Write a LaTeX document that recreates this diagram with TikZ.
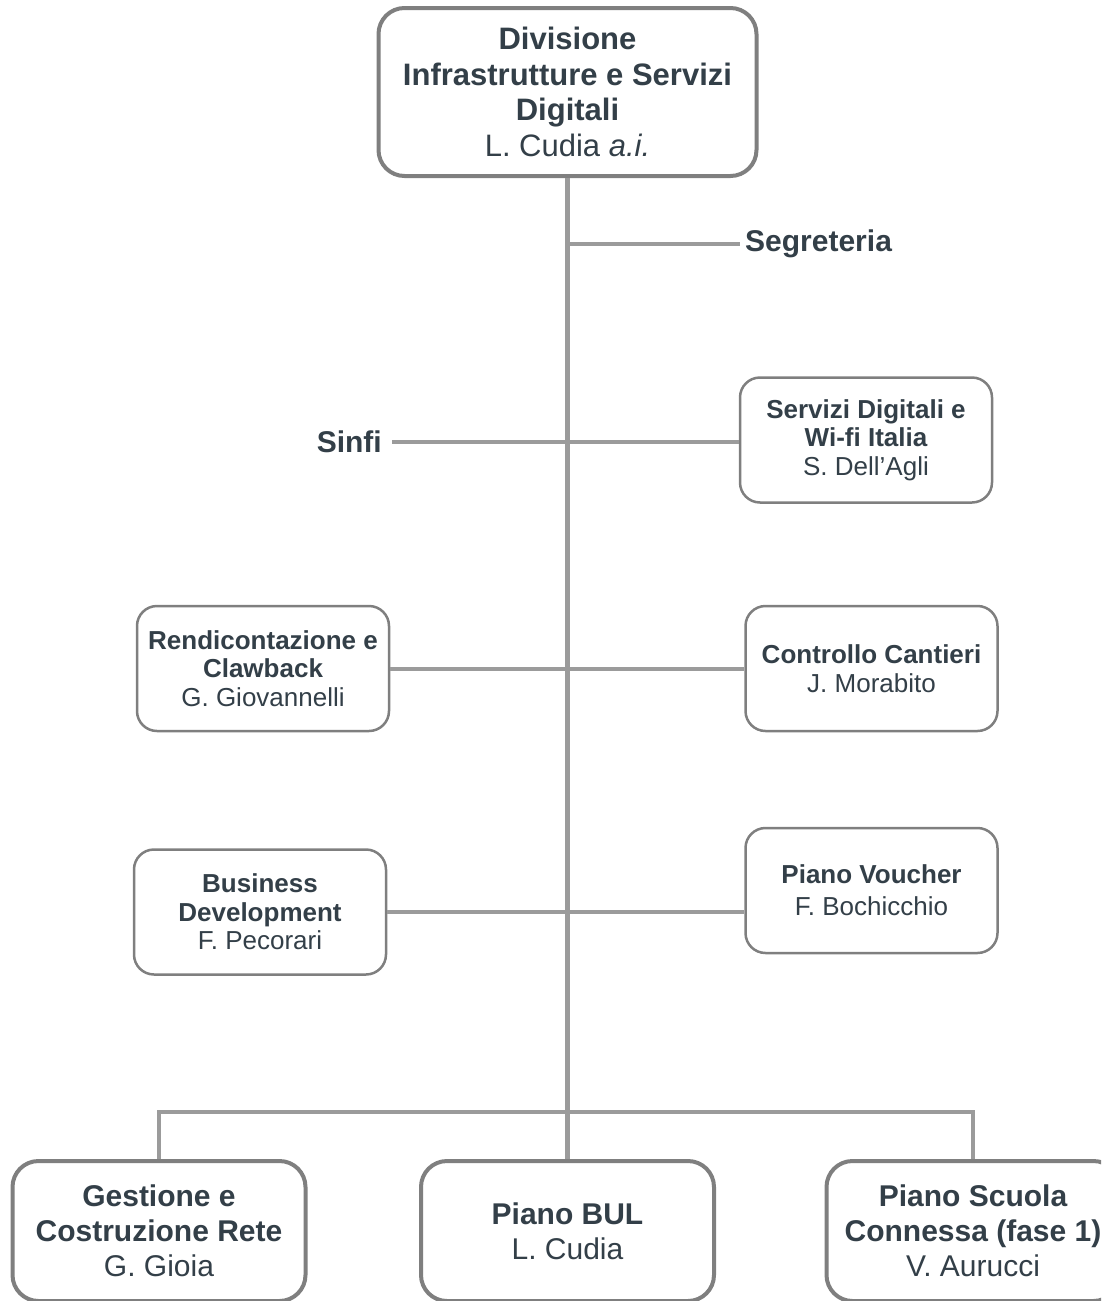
\documentclass[tikz,border=0pt]{standalone}
\usepackage{fontspec}
\setmainfont{Liberation Sans}
\usepackage{tikz}
\definecolor{ink}{HTML}{333F48}
\definecolor{linegray}{HTML}{9B9B9B}
\definecolor{boxgray}{HTML}{7F7F7F}
\tikzstyle{headbox} = [draw=boxgray, fill=white, line width=4pt, rectangle, rounded corners=26pt, minimum width=378pt, minimum height=168pt, align=center, text=ink, font=\fontsize{31}{35.5}\selectfont\bfseries]
\tikzstyle{unitbox} = [draw=boxgray, fill=white, line width=2.5pt, rectangle, rounded corners=20pt, minimum width=252pt, minimum height=125pt, inner sep=0pt, align=center, text=ink, font=\fontsize{26}{28.5}\selectfont\bfseries]
\tikzstyle{planbox} = [draw=boxgray, fill=white, line width=4pt, rectangle, rounded corners=26pt, minimum width=293pt, minimum height=140pt, align=center, text=ink, font=\fontsize{30}{35}\selectfont\bfseries]
\tikzstyle{staff} = [text=ink, font=\fontsize{30}{35}\selectfont\bfseries, inner sep=5pt]
\tikzstyle{trunk} = [draw=linegray, line width=5pt]
\tikzstyle{branch} = [draw=linegray, line width=4pt]
\newcommand{\who}[1]{{\mdseries #1}}

\begin{document}
\begin{tikzpicture}[x=1pt,y=-1pt]
\useasboundingbox (0,0) rectangle (1101,1301);
\clip (0,0) rectangle (1101,1301);
% direzione
\node [headbox] (div) at (567.5,92) {Divisione\\Infrastrutture e Servizi\\Digitali\\\who{L. Cudia \textit{a.i.}}};
% staff
\node [staff, anchor=west] (segr) at (740,244) {Segreteria};
\node [staff, anchor=east, inner xsep=10pt] (sinfi) at (392,442) {Sinfi};
% uffici
\node [unitbox] (serv) at (866,440) {Servizi Digitali e\\Wi-fi Italia\\\who{S. Dell’Agli}};
\node [unitbox] (rend) at (263,668.5) {Rendicontazione e\\Clawback\\\who{G. Giovannelli}};
\node [unitbox] (ctrl) at (871.5,668.5) {Controllo Cantieri\\\who{J. Morabito}};
\node [unitbox] (bdev) at (260,912) {Business\\Development\\\who{F. Pecorari}};
\node [unitbox] (vouch) at (871.5,890.5) {Piano Voucher\\[3.5pt]\who{F. Bochicchio}};
% piani
\node [planbox] (gest) at (159,1231) {Gestione e\\Costruzione Rete\\\who{G. Gioia}};
\node [planbox] (bul) at (567.5,1231) {Piano BUL\\\who{L. Cudia}};
\node [planbox] (scuola) at (973,1231) {Piano Scuola\\Connessa (fase 1)\\\who{V. Aurucci}};

\draw [trunk] (div.south) -- (bul.north);
\draw [branch] (segr.west -| div.south) -- (segr.west);
\draw [branch] (sinfi.east) -- (sinfi.east -| serv.west);
\draw [branch] (rend.east) -- (ctrl.west);
\draw [branch] (bdev.east) -- (bdev.east -| vouch.west);
\coordinate (bus) at (567.5,1112);
\draw [branch] (gest.north) -- (gest.north |- bus) -- (scuola.north |- bus) -- (scuola.north);
\end{tikzpicture}
\end{document}
